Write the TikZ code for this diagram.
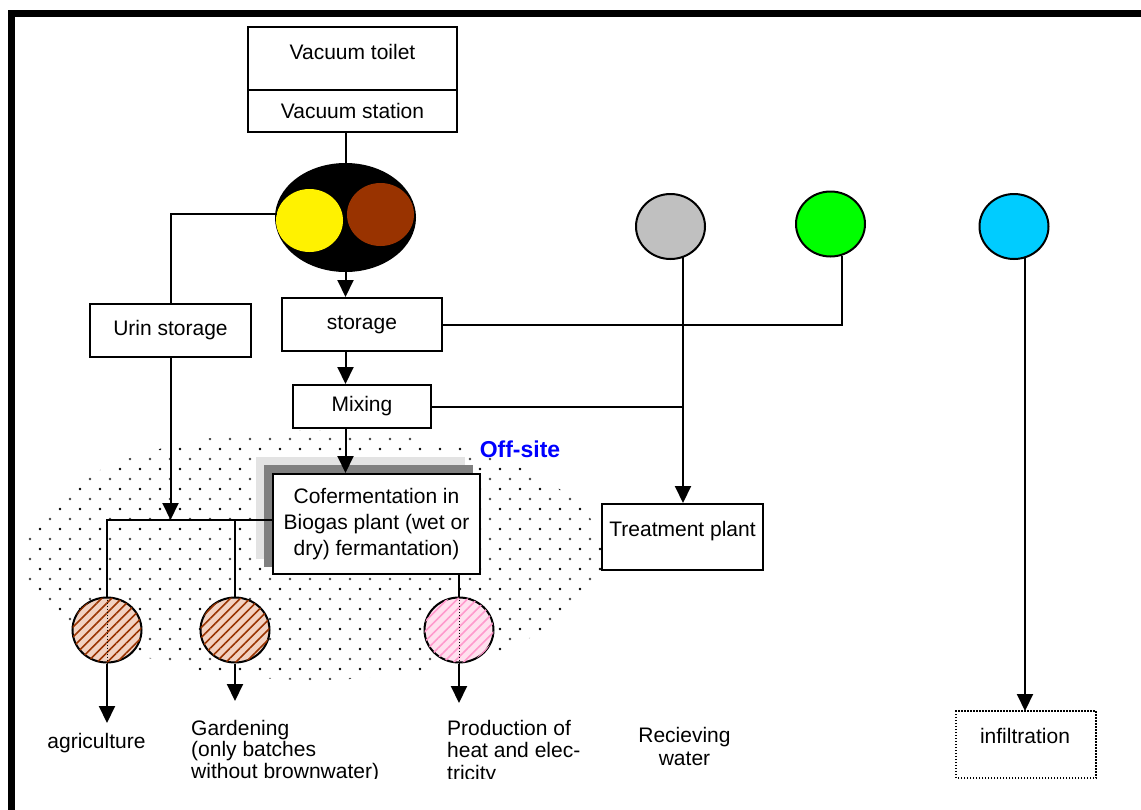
\documentclass[tikz,border=0pt]{standalone}
\usepackage{fontspec}
\setmainfont{Liberation Sans}
\usetikzlibrary{arrows.meta,patterns.meta,shapes.geometric}
\definecolor{brownc}{HTML}{993300}
\definecolor{greyc}{HTML}{C0C0C0}
\definecolor{greenc}{HTML}{00FF00}
\definecolor{cyanc}{HTML}{00CCFF}
\definecolor{pinkc}{HTML}{FF99CC}
\definecolor{lightbr}{HTML}{F2D2C2}
\definecolor{lightpk}{HTML}{FFE0EE}
\definecolor{shadowlight}{HTML}{E3E3E3}
\definecolor{shadowdark}{HTML}{808080}
\definecolor{offblue}{HTML}{0000FF}
\tikzset{
  txt/.style={font=\fontsize{21}{21.5}\selectfont},
  box/.style={txt, draw, line width=2pt, fill=white, inner sep=0pt},
  disc/.style={ellipse, inner sep=0pt, minimum width=69pt, minimum height=65pt, draw, line width=2pt},
  hatchbr/.style={disc, fill=lightbr, postaction={pattern={Lines[angle=45,distance=7pt,line width=1.6pt]}, pattern color=brownc}},
  hatchpk/.style={disc, fill=lightpk, postaction={pattern={Lines[angle=45,distance=7pt,line width=1.6pt]}, pattern color=pinkc}},
  arr/.style={line width=2pt, -{Triangle[length=17pt,width=16pt]}},
  conn/.style={line width=2pt},
  inside/.style={line width=1pt, dash pattern=on 1.5pt off 1.5pt},
  lbl/.style={txt, inner sep=0pt},
}
\begin{document}
\begin{tikzpicture}[x=1pt,y=-1pt]
\useasboundingbox (0,0) rectangle (1141,809);
% frame
\draw[line width=7pt] (11.5,815) -- (11.5,13) -- (1147,13);
% off-site area
\path[pattern={Dots[distance=20pt,radius=1.3pt]}, pattern color=black] (313,555) ellipse [x radius=290pt, y radius=125pt];
\path[pattern={Dots[distance=20pt,radius=1.3pt,xshift=10pt,yshift=10pt]}, pattern color=black!75] (313,555) ellipse [x radius=290pt, y radius=125pt];
\node[font=\fontsize{23}{24}\selectfont\bfseries, text=offblue, inner sep=0pt] (off) at (520,449) {Off-site};

% top boxes
\node[box, minimum width=209pt, minimum height=63pt, text depth=14pt] (vt) at (352.5,58.5) {Vacuum toilet};
\node[box, minimum width=209pt, minimum height=42pt] (vs) at (352.5,111) {Vacuum station};

% separating toilet
\node[ellipse, fill=black, inner sep=0pt, minimum width=141pt, minimum height=109pt] (bl) at (345.5,217.5) {};
\node[ellipse, fill=yellow, inner sep=0pt, minimum width=67pt, minimum height=63pt] (yel) at (309.5,220.5) {};
\node[ellipse, fill=brownc, inner sep=0pt, minimum width=67pt, minimum height=63pt] (brn) at (380.5,214.5) {};

% coloured circles
\node[disc, fill=greyc] (gy) at (670.5,226.5) {};
\node[disc, fill=greenc] (gn) at (830.5,224) {};
\node[disc, fill=cyanc] (cy) at (1014,226.5) {};
\coordinate (gybot) at (683,257);
\coordinate (gnbot) at (842,256);
\coordinate (cybot) at (1025,257);

% process boxes
\node[box, minimum width=161pt, minimum height=53pt] (us) at (170.5,330.5) {Urin storage};
\node[box, minimum width=160pt, minimum height=53pt] (st) at (362,324.5) {storage};
\node[box, minimum width=138pt, minimum height=43pt] (mx) at (362,406.5) {Mixing};
\node[box, minimum width=161pt, minimum height=66pt, text depth=17pt] (tp) at (682.5,537) {Treatment plant};
\node[box, draw=none, fill=none, minimum width=138pt, minimum height=65pt] (inf) at (1026,744.5) {};
\draw[line width=1.5pt, dash pattern=on 1.5pt off 1.5pt] (inf.south west) rectangle (inf.north east);
\node[lbl] (inftxt) at (1025,736) {infiltration};

% cofermentation with shadow
\node[box, draw=none, fill=none, minimum width=207pt, minimum height=100pt] (cfpos) at (376.5,524) {};
\fill[shadowlight] ([xshift=-16pt,yshift=16pt]cfpos.south west) rectangle ([xshift=-16pt,yshift=16pt]cfpos.north east);
\fill[shadowdark] ([xshift=-8pt,yshift=8pt]cfpos.south west) rectangle ([xshift=-8pt,yshift=8pt]cfpos.north east);
\node[box, align=center, font=\fontsize{21}{26}\selectfont, minimum width=207pt, minimum height=100pt] (cf) at (376.5,524) {Cofermentation in\\Biogas plant (wet or\\dry) fermantation)};

% end-use circles
\node[hatchbr] (c1) at (107,630) {};
\node[hatchbr] (c2) at (235,630) {};
\node[hatchpk] (c3) at (459,630) {};
\draw[inside] (c1.north) -- (c1.south);
\draw[inside] (c3.north) -- (c3.south);

\coordinate (h1) at (107,520);
\coordinate (a1) at (107,723);
\coordinate (a2) at (235,701);
\coordinate (a3) at (459,703);

% connectors
\draw[conn] (vs.south -| bl.north) -- (bl.north);
\draw[conn] (yel.168) -- (yel.168 -| us.north) -- (us.north);
\draw[arr] (bl.south) -- (bl.south |- st.north);
\draw[arr] (bl.south |- st.south) -- (bl.south |- mx.north);
\draw[arr] (bl.south |- mx.south) -- (bl.south |- cf.north);
\draw[conn] (st.east) -- (st.east -| gnbot) -- (gnbot);
\draw[arr] (gybot) -- (gybot |- tp.north);
\draw[conn] (mx.east) -- (mx.east -| gybot);
\draw[arr] (cybot) -- (cybot |- inf.north);
\draw[arr] (us.south) -- (us.south |- h1);
\draw[conn] (cf.west |- h1) -- (h1) -- (c1.north);
\draw[conn] (c2.north |- h1) -- (c2.north);
\draw[conn] (cf.south -| c3.north) -- (c3.north);
\draw[arr] (c1.south) -- (a1);
\draw[arr] (c2.south) -- (a2);
\draw[arr] (c3.south) -- (a3);

% bottom labels
\node[lbl] (agri) at (96.5,743) {agriculture};
\node[lbl, align=center, font=\fontsize{21}{23}\selectfont, anchor=north] (recv) at (684.5,727) {Recieving\\water};
\begin{scope}
\clip (0,0) rectangle (1141,778);
\node[lbl, align=left, font=\fontsize{21}{21.5}\selectfont, anchor=north west] (gard) at (191,720) {Gardening\\(only batches\\without brownwater)};
\node[lbl, align=left, font=\fontsize{21}{22.5}\selectfont, anchor=north west] (prod) at (447,720) {Production of\\heat and elec-\\tricity};
\end{scope}
\end{tikzpicture}
\end{document}
